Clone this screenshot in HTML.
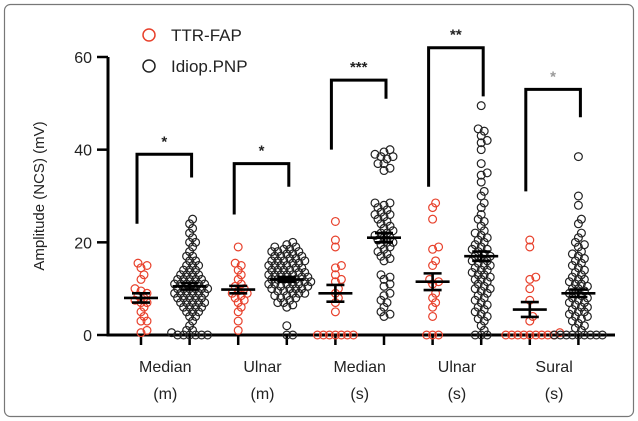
<!DOCTYPE html>
<html><head><meta charset="utf-8"><style>
html,body{margin:0;padding:0;background:#fff;}
svg{display:block;font-family:"Liberation Sans",sans-serif;}
</style></head><body>
<svg id="c" width="638" height="421" viewBox="0 0 638 421">
<rect x="4.5" y="4.5" width="629" height="412" rx="6" fill="#fff" stroke="#777" stroke-width="1.2"/>
<g id="plot"></g>
</svg>
<script>
const categories=["Median\n(m)","Ulnar\n(m)","Median\n(s)","Ulnar\n(s)","Sural\n(s)"];
const seriesNames=["TTR-FAP","Idiop.PNP"];
const yTicks=[0,20,40,60];
const ttrMedM=[15.5,15,14.5,13,12,10,9.5,9,8.5,8,7.5,7,7,6,5,4,3,3,1,0.5];
const idiMedM=[25,24,23,22,21,20,20,19,18,17,17,16,16,15,15,15,14,14,14,13,13,13,13,12,12,12,12,12,11,11,11,11,11,11,10,10,10,10,10,10,9,9,9,9,9,9,8,8,8,8,8,7,7,7,7,7,6,6,6,6,5,5,5,4,4,3,2,1,1,0.5,0,0,0,0,0,0];
const ttrUlnM=[19,15.5,15,14,13,12,11,10.5,10,9.5,9,9,8.5,8,7.5,7,6,5,3,1];
const idiUlnM=[20,19.5,19,19,18.5,18.5,18,18,18,17.5,17.5,17,17,17,16.5,16.5,16,16,16,16,15.5,15.5,15,15,15,15,14.5,14.5,14,14,14,14,13.5,13.5,13,13,13,13,13,12.5,12.5,12,12,12,12,12,11.5,11.5,11,11,11,11,11,10.5,10.5,10,10,10,10,9.5,9.5,9,9,9,8.5,8.5,8,8,7.5,7,7,6.5,6,2,0,0];
const ttrMedS=[24.5,20.5,19,15,14.5,13,12,11.5,10,9,8,7,5,0,0,0,0,0,0,0];
const idiMedS=[40,39.5,39,38.5,38.5,38,37,37,36,35.5,28.5,28.5,28,27.5,27,26.5,26,26,25.5,25,24.5,24,23.5,23,22.5,22,22,21.5,21,21,20.5,20,20,19.5,19,18.5,18,17.5,17,16.5,16,13,12.5,12,11,10.5,9,8.5,7.5,7,6,5,4.5,4];
const ttrUlnS=[28.5,27.5,25,19,18.5,16,15,12,11.5,11,9,8,7,6,4,0,0,0];
const idiUlnS=[49.5,44.5,44,43,42,41.5,40,37,35,34.5,33,31,30,28.5,27.5,26,25,24.5,23.5,22.5,22,21.5,21,20.5,20,19.5,19,18.5,18.5,18,17.5,17,17,16.5,16,16,15.5,15,15,14.5,14,14,13.5,13,13,12.5,12,12,11.5,11,10.5,10,10,9.5,9,8.5,8,7.5,7,6.5,6,5.5,5,4.5,4,3.5,3,2,1,0,0,0];
const ttrSur=[20.5,19,12.5,12,10,7.5,4,3,0.5,0,0,0,0,0,0,0,0,0];
const idiSur=[38.5,30,28,25,24,22,21,20,19.5,19,18,17.5,17,16.5,16,15.5,15,14.5,14,13.5,13,12.5,12,12,11.5,11,11,10.5,10,10,9.5,9,9,8.5,8,8,7.5,7,7,6.5,6,6,5.5,5,5,4.5,4,4,3.5,3,2.5,2,1.5,1,0,0,0,0,0,0,0,0,0];
const groups=[ttrMedM,idiMedM,ttrUlnM,idiUlnM,ttrMedS,idiMedS,ttrUlnS,idiUlnS,ttrSur,idiSur];
const means=[8,10.5,9.8,12,9,21,11.5,17,5.5,9];
const sems=[1,0.7,0.8,0.5,1.8,1,1.8,1,1.6,0.8];
const sigLabels=["*","*","***","**","*"];
const bracketTop=[39,37,55,62,53];
const bracketLeft=[24,26,40,32,31];
const bracketRight=[34,32,51,51.5,47];

const NS="http://www.w3.org/2000/svg";
const g=document.getElementById('plot');
const X0=108,X1=615,Y0=335,Y60=57;
const y=v=>Y0-(v/60)*(Y0-Y60);
const xPos=i=>141+i*48.6;
function el(t,a,p){const e=document.createElementNS(NS,t);for(const k in a)e.setAttribute(k,a[k]);(p||g).appendChild(e);return e;}

let ax=el('path',{d:`M${X0},${Y60} V${Y0} H${X1}`,fill:'none',stroke:'#000','stroke-width':3});


yTicks.forEach(t=>{
  let l=el('line',{x1:97,x2:X0,y1:y(t),y2:y(t),stroke:'#000','stroke-width':2.5});
  
  
  let tx=el('text',{x:92,y:y(t)+6,'text-anchor':'end','font-size':16,fill:'#222'});
  tx.textContent=t;
  
  
});
let yl=el('text',{transform:'translate(44,196) rotate(-90)','text-anchor':'middle','font-size':15,fill:'#222'});
yl.textContent='Amplitude (NCS) (mV)';



groups.forEach((_,i)=>{
  let l=el('line',{x1:xPos(i),x2:xPos(i),y1:Y0,y2:Y0+10,stroke:'#000','stroke-width':2.5});
  
  
});
categories.forEach((c,k)=>{
  const cx=(xPos(2*k)+xPos(2*k+1))/2;
  c.split('\n').forEach((s,j)=>{
    let t=el('text',{x:cx,y:372+j*27,'text-anchor':'middle','font-size':16,fill:'#222'});
    t.textContent=s;
    
    
  });
});

const R=3.9,D=5.2,STEP=6;
groups.forEach((vals,i)=>{
  const col=i%2===0?'#e8412c':'#222';
  const placed=[];
  const sorted=[...vals].sort((a,b)=>a-b);
  sorted.forEach(v=>{
    const py=y(v);
    for(let k=0;k<40;k++){
      const off=(k%2?1:-1)*Math.ceil(k/2)*STEP*0.5;
      const px=xPos(i)+off;
      if(placed.every(p=>(p[0]-px)**2+(p[1]-py)**2>=D*D)){placed.push([px,py]);break;}
    }
  });
  placed.forEach(p=>{
    let c=el('circle',{cx:p[0],cy:p[1],r:R,fill:'none',stroke:col,'stroke-width':1.2});
    
    
  });
  const m=means[i],s=sems[i],cx=xPos(i);
  let mb=el('path',{d:`M${cx-17},${y(m)} H${cx+17} M${cx-9},${y(m+s)} H${cx+9} M${cx-9},${y(m-s)} H${cx+9} M${cx},${y(m+s)} V${y(m-s)}`,stroke:'#000','stroke-width':2.6,fill:'none'});
  
  
});

sigLabels.forEach((s,k)=>{
  const a=xPos(2*k)-4,b=xPos(2*k+1)+2;
  let p=el('path',{d:`M${a},${y(bracketLeft[k])} V${y(bracketTop[k])} H${b} V${y(bracketRight[k])}`,fill:'none',stroke:'#000','stroke-width':3});
  
  
  let t=el('text',{x:(a+b)/2,y:y(bracketTop[k])-8,'text-anchor':'middle','font-size':15,'font-weight':'bold',fill:k===4?'#999':'#222'});
  t.textContent=s;
  
  
});

seriesNames.forEach((n,j)=>{
  const ly=35+j*31;
  let c=el('circle',{cx:149,cy:ly,r:6,fill:'none',stroke:j?'#222':'#e8412c','stroke-width':1.5});
  
  
  let t=el('text',{x:171,y:ly+6,'font-size':17,fill:'#222'});
  t.textContent=n;
  
  
});
</script>
</body></html>
